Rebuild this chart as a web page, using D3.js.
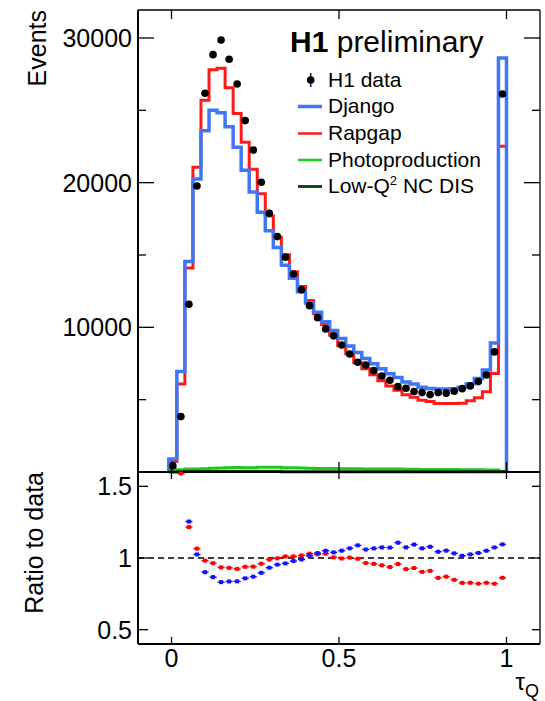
<!DOCTYPE html>
<html>
<head>
<meta charset="utf-8">
<script src="https://cdn.jsdelivr.net/npm/d3@7"></script>
<style>
  body { margin: 0; background: #ffffff; }
  text { font-family: "Liberation Sans", Arial, Helvetica, sans-serif; fill: #000; }
</style>
</head>
<body>
<div id="chart"></div>
<script>
// tau_Q bins (42 bins, edges)
const binEdges = [-0.008, 0.016, 0.040, 0.064, 0.088, 0.112, 0.136, 0.160, 0.184, 0.208,
                  0.232, 0.256, 0.280, 0.304, 0.328, 0.352, 0.376, 0.400, 0.424, 0.448,
                  0.472, 0.496, 0.520, 0.544, 0.568, 0.592, 0.616, 0.640, 0.664, 0.688,
                  0.712, 0.736, 0.760, 0.784, 0.808, 0.832, 0.856, 0.880, 0.904, 0.928,
                  0.952, 0.976, 1.000];

const h1Data = [420, 3830, 11600, 19770, 26180, 28850, 29860, 28530, 26820, 24290,
                22260, 20030, 17890, 16270, 14850, 13690, 12590, 11500, 10670, 9890,
                9410, 8780, 8160, 7590, 7400, 7010, 6640, 6340, 5900, 5790,
                5560, 5490, 5350, 5490, 5450, 5580, 5760, 5950, 6250, 6710,
                8300, 26130];

const django = [900, 6940, 14550, 20260, 23590, 25000, 24830, 23860, 22450, 20850,
                19360, 17960, 16680, 15520, 14290, 13400, 12460, 11680, 11040, 10390,
                9780, 9230, 8710, 8260, 7840, 7480, 7130, 6800, 6530, 6220,
                6080, 5860, 5770, 5730, 5730, 5760, 5850, 6100, 6470, 7050,
                8910, 28610];

const rapgap = [720, 6090, 14100, 21060, 25700, 27800, 27900, 26560, 24780, 22800,
                20920, 19230, 17700, 16230, 15010, 13840, 12820, 11850, 10940, 10190,
                9450, 8750, 8180, 7550, 7140, 6720, 6300, 5940, 5650, 5340,
                5170, 4960, 4870, 4730, 4740, 4730, 4760, 4920, 5130, 5550,
                6810, 22520];

const photoproduction = [60, 150, 200, 210, 230, 260, 280, 300, 310, 300,
                         290, 320, 330, 320, 300, 290, 280, 260, 250, 240,
                         240, 230, 220, 220, 210, 210, 200, 200, 200, 190,
                         190, 180, 180, 180, 170, 170, 160, 150, 150, 140,
                         130, 60];

const lowQ2 = [5, 20, 30, 35, 40, 40, 40, 38, 36, 34,
               32, 30, 28, 26, 25, 24, 22, 21, 20, 20,
               19, 18, 18, 17, 17, 16, 16, 15, 15, 15,
               14, 14, 14, 14, 13, 13, 13, 13, 12, 12,
               12, 10];

const xTicks = [0, 0.5, 1];
const yTicksMajor = [10000, 20000, 30000];
const yTicksMinor = [5000, 15000, 25000];
const ratioTicks = [0.5, 1, 1.5];

const width = 545;
const height = 701;
const left = 138, right = 540;
const topY = 10, midY = 472, bottomY = 644;

const x = d3.scaleLinear().domain([-0.1, 1.1]).range([left, right]);
const y = d3.scaleLinear().domain([0, 31935]).range([midY, topY]);
const yr = d3.scaleLinear().domain([0.4, 1.6]).range([bottomY, midY]);

const svg = d3.select("#chart")
              .append("svg")
              .attr("width", width)
              .attr("height", height);

svg.append("rect").attr("width", width).attr("height", height).attr("fill", "#fff");

// step histogram path
const stepPath = values => {
    let d = `M${x(binEdges[0])},${y(0)}`;
    values.forEach((v, i) => {
        d += `V${y(v)}H${x(binEdges[i + 1])}`;
    });
    return d + `V${y(0)}`;
};

const hists = [
    {vals: rapgap, color: "#ff1a1a", w: 3},
    {vals: django, color: "#3f76f6", w: 3.5},
    {vals: photoproduction, color: "#1ec81e", w: 3},
    {vals: lowQ2, color: "#073d07", w: 3}
];

svg.append("g")
   .selectAll("path")
   .data(hists)
   .enter()
   .append("path")
   .attr("d", d => stepPath(d.vals))
   .attr("fill", "none")
   .attr("stroke", d => d.color)
   .attr("stroke-width", d => d.w)
   .attr("stroke-linejoin", "miter");

// data points
const centers = h1Data.map((v, i) => (binEdges[i] + binEdges[i + 1]) / 2);

svg.append("g")
   .selectAll("circle")
   .data(h1Data)
   .enter()
   .append("circle")
   .attr("cx", (d, i) => x(centers[i]))
   .attr("cy", d => y(d))
   .attr("r", 3.8)
   .attr("fill", "#000");

// frames
const frame = svg.append("g").attr("stroke", "#000").attr("fill", "none");
frame.append("line").attr("x1", left).attr("x2", right).attr("y1", topY).attr("y2", topY).attr("stroke-width", 1.3);
frame.append("line").attr("x1", right).attr("x2", right).attr("y1", topY).attr("y2", bottomY).attr("stroke-width", 1.3);
frame.append("line").attr("x1", left).attr("x2", left).attr("y1", topY).attr("y2", bottomY).attr("stroke-width", 2);
frame.append("line").attr("x1", left).attr("x2", right).attr("y1", midY).attr("y2", midY).attr("stroke-width", 2);
frame.append("line").attr("x1", left).attr("x2", right).attr("y1", bottomY).attr("y2", bottomY).attr("stroke-width", 2);

// ticks
const ticks = svg.append("g").attr("stroke", "#000").attr("stroke-width", 1.3);
xTicks.forEach(t => {
    ticks.append("line").attr("x1", x(t)).attr("x2", x(t)).attr("y1", topY).attr("y2", topY + 9);
    ticks.append("line").attr("x1", x(t)).attr("x2", x(t)).attr("y1", midY - 10).attr("y2", midY + 7);
    ticks.append("line").attr("x1", x(t)).attr("x2", x(t)).attr("y1", bottomY).attr("y2", bottomY - 7);
});
yTicksMajor.forEach(t => {
    ticks.append("line").attr("x1", left).attr("x2", left + 16).attr("y1", y(t)).attr("y2", y(t));
    ticks.append("line").attr("x1", right).attr("x2", right - 16).attr("y1", y(t)).attr("y2", y(t));
});
yTicksMinor.forEach(t => {
    ticks.append("line").attr("x1", left).attr("x2", left + 8).attr("y1", y(t)).attr("y2", y(t));
    ticks.append("line").attr("x1", right).attr("x2", right - 8).attr("y1", y(t)).attr("y2", y(t));
});
ratioTicks.forEach(t => {
    ticks.append("line").attr("x1", left).attr("x2", left + 10).attr("y1", yr(t)).attr("y2", yr(t));
    ticks.append("line").attr("x1", right).attr("x2", right - 8).attr("y1", yr(t)).attr("y2", yr(t));
});

// tick labels
svg.append("g")
   .selectAll("text")
   .data(yTicksMajor)
   .enter()
   .append("text")
   .attr("x", 132)
   .attr("y", d => y(d) + 9)
   .attr("text-anchor", "end")
   .attr("font-size", 25)
   .text(d => d);

svg.append("g")
   .selectAll("text")
   .data(ratioTicks)
   .enter()
   .append("text")
   .attr("x", 132)
   .attr("y", d => yr(d) + 9)
   .attr("text-anchor", "end")
   .attr("font-size", 25)
   .text(d => d);

svg.append("g")
   .selectAll("text")
   .data(xTicks)
   .enter()
   .append("text")
   .attr("x", d => x(d))
   .attr("y", 667)
   .attr("text-anchor", "middle")
   .attr("font-size", 25)
   .text(d => d);

// axis titles
svg.append("text")
   .attr("transform", "translate(46,10) rotate(-90)")
   .attr("text-anchor", "end")
   .attr("font-size", 25)
   .text("Events");

svg.append("text")
   .attr("transform", "translate(43,472) rotate(-90)")
   .attr("text-anchor", "end")
   .attr("font-size", 25)
   .text("Ratio to data");

const tau = svg.append("text").attr("x", 539).attr("y", 690).attr("text-anchor", "end").attr("font-size", 24);
tau.append("tspan").text("τ");
tau.append("tspan").attr("dy", 7).attr("font-size", 18).text("Q");

// ratio panel
svg.append("line")
   .attr("x1", left).attr("x2", right)
   .attr("y1", yr(1)).attr("y2", yr(1))
   .attr("stroke", "#000")
   .attr("stroke-width", 1.6)
   .attr("stroke-dasharray", "6,4");

const ratioSeries = [
    {mc: rapgap, color: "#ff0000"},
    {mc: django, color: "#1010ff"}
];

ratioSeries.forEach(s => {
    const pts = s.mc.map((v, i) => ({i, r: v / h1Data[i]}))
                    .filter(p => p.r >= 0.4 && p.r <= 1.6);
    const g = svg.append("g");
    g.selectAll("line")
     .data(pts)
     .enter()
     .append("line")
     .attr("x1", p => x(binEdges[p.i]) + 0.5)
     .attr("x2", p => x(binEdges[p.i + 1]) - 0.5)
     .attr("y1", p => yr(p.r))
     .attr("y2", p => yr(p.r))
     .attr("stroke", s.color)
     .attr("stroke-width", 1.5);
    g.selectAll("rect")
     .data(pts)
     .enter()
     .append("rect")
     .attr("x", p => x(centers[p.i]) - 2)
     .attr("y", p => yr(p.r) - 2)
     .attr("width", 4)
     .attr("height", 4)
     .attr("fill", s.color);
});

// legend
const title = svg.append("text").attr("x", 290).attr("y", 52).attr("font-size", 30);
title.append("tspan").attr("font-weight", "bold").text("H1");
title.append("tspan").text(" preliminary");

const legendItems = [
    {label: "H1 data", type: "point", y: 86.5},
    {label: "Django", color: "#3f76f6", w: 3.5, y: 113},
    {label: "Rapgap", color: "#ff1a1a", w: 2.5, y: 140},
    {label: "Photoproduction", color: "#1ec81e", w: 2.5, y: 166.5},
    {label: "Low-Q", sup: "2", rest: " NC DIS", color: "#073d07", w: 2.8, y: 193}
];

legendItems.forEach(item => {
    const cy = item.y - 6.5;
    if (item.type === "point") {
        svg.append("line")
           .attr("x1", 310.7).attr("x2", 310.7)
           .attr("y1", cy - 7).attr("y2", cy + 7)
           .attr("stroke", "#10107a").attr("stroke-width", 1.5);
        svg.append("circle").attr("cx", 310.7).attr("cy", cy).attr("r", 3.8).attr("fill", "#000");
    } else {
        svg.append("line")
           .attr("x1", 298).attr("x2", 322)
           .attr("y1", cy).attr("y2", cy)
           .attr("stroke", item.color).attr("stroke-width", item.w);
    }
    const t = svg.append("text").attr("x", 328).attr("y", item.y).attr("font-size", 21);
    t.append("tspan").text(item.label);
    if (item.sup) {
        t.append("tspan").attr("dy", -8).attr("font-size", 13).text(item.sup);
        t.append("tspan").attr("dy", 8).text(item.rest);
    }
});
</script>
</body>
</html>
